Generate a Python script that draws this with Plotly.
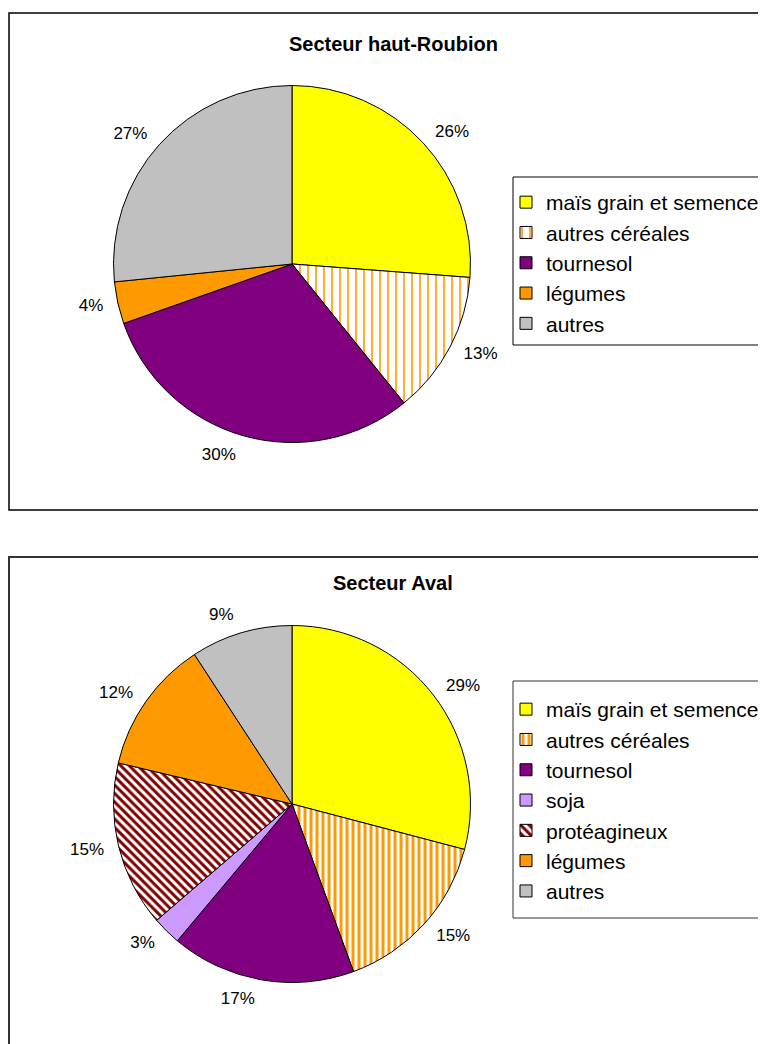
import plotly.graph_objects as go

# Page body has an 8px margin; the figure is drawn from (8, 8).
OFF = 8
W, H = 766, 1044 - OFF

# ---- data ----
labels_top = ["maïs grain et semence", "autres céréales", "tournesol", "légumes", "autres"]
values_top = [26.2, 13.0, 30.4, 3.8, 26.6]
colors_top = ["#FFFF00", "#FFFFFF", "#800080", "#FF9900", "#C0C0C0"]
shapes_top = ["", "|", "", "", ""]
pfg_top = ["black", "#FF9900", "black", "black", "black"]

labels_bot = ["maïs grain et semence", "autres céréales", "tournesol", "soja",
              "protéagineux", "légumes", "autres"]
values_bot = [29.1, 15.3, 16.7, 2.6, 15.0, 12.1, 9.2]
colors_bot = ["#FFFF00", "#FFFFFF", "#800080", "#CC99FF", "#FFFFFF", "#FF9900", "#C0C0C0"]
shapes_bot = ["", "|", "", "", "\\", "", ""]
pfg_bot = ["black", "#FF9900", "black", "black", "#800000", "black", "black"]

title_top = "Secteur haut-Roubion"
title_bot = "Secteur Aval"

FONT = "Liberation Sans, Arial, sans-serif"


def px(x):
    return (x - OFF) / W


def py(y):
    return 1 - (y - OFF) / H


def dom(cx, cy, r):
    return dict(x=[px(cx - r), px(cx + r)], y=[py(cy + r), py(cy - r)])


# zero-width space keeps the bottom legend separate from the top one
labels_bot_keyed = [lab + "\u200b" for lab in labels_bot]

TOP_C, BOT_C, R, LABEL_GAP = (292, 264), (292, 804), 178.5, 10

fig = go.Figure()


def add_pie(labels, values, colors, shapes, pfg, psize, psol, center, legend):
    n = len(values)
    # transparent, slightly larger pie carrying the percentage labels
    fig.add_trace(go.Pie(
        labels=labels, values=values, sort=False, direction="clockwise", rotation=0,
        marker=dict(colors=["rgba(0,0,0,0)"] * n, line=dict(width=0)),
        texttemplate="%{percent:.0%}", textposition="outside",
        textfont=dict(family=FONT, size=17, color="black"),
        domain=dom(center[0], center[1], R + LABEL_GAP),
        showlegend=False, hoverinfo="skip", legend=legend,
    ))
    # visible pie
    fig.add_trace(go.Pie(
        labels=labels, values=values, sort=False, direction="clockwise", rotation=0,
        marker=dict(colors=colors, line=dict(color="black", width=1),
                    pattern=dict(shape=shapes, fgcolor=pfg, size=psize, solidity=psol,
                                 fillmode="replace")),
        textinfo="none",
        domain=dom(center[0], center[1], R),
        legend=legend, hoverinfo="label+percent",
    ))


add_pie(labels_top, values_top, colors_top, shapes_top, pfg_top, 8, 0.2, TOP_C, "legend")
add_pie(labels_bot_keyed, values_bot, colors_bot, shapes_bot, pfg_bot, 6, 0.5, BOT_C, "legend2")

legend_style = dict(
    xanchor="left", yanchor="top",
    bgcolor="rgba(0,0,0,0)", borderwidth=0,
    font=dict(family=FONT, size=21, color="black"),
    traceorder="normal", itemclick=False,
)

fig.update_layout(
    width=W, height=H,
    margin=dict(l=0, r=0, t=0, b=0),
    paper_bgcolor="white", plot_bgcolor="white",
    showlegend=True,
    legend=dict(x=px(506), y=py(182), **legend_style),
    legend2=dict(x=px(506), y=py(689), **legend_style),
    shapes=[
        dict(type="rect", xref="paper", yref="paper",
             x0=px(9), x1=px(800), y0=py(510), y1=py(13),
             line=dict(color="black", width=1.5), fillcolor="rgba(0,0,0,0)", layer="below"),
        dict(type="rect", xref="paper", yref="paper",
             x0=px(9), x1=px(800), y0=py(1070), y1=py(557),
             line=dict(color="#333333", width=2), fillcolor="rgba(0,0,0,0)", layer="below"),
        # legend frames
        dict(type="rect", xref="paper", yref="paper",
             x0=px(513), x1=px(800), y0=py(345), y1=py(177),
             line=dict(color="black", width=1), fillcolor="white", layer="below"),
        dict(type="rect", xref="paper", yref="paper",
             x0=px(513), x1=px(800), y0=py(918), y1=py(681),
             line=dict(color="#333333", width=1), fillcolor="white", layer="below"),
    ],
    annotations=[
        dict(text="<b>%s</b>" % title_top, x=px(393), y=py(44), xref="paper", yref="paper",
             xanchor="center", yanchor="middle",
             showarrow=False, font=dict(family=FONT, size=20, color="black")),
        dict(text="<b>%s</b>" % title_bot, x=px(393), y=py(583), xref="paper", yref="paper",
             xanchor="center", yanchor="middle",
             showarrow=False, font=dict(family=FONT, size=20, color="black")),
    ],
)

fig.write_html("out.html")
